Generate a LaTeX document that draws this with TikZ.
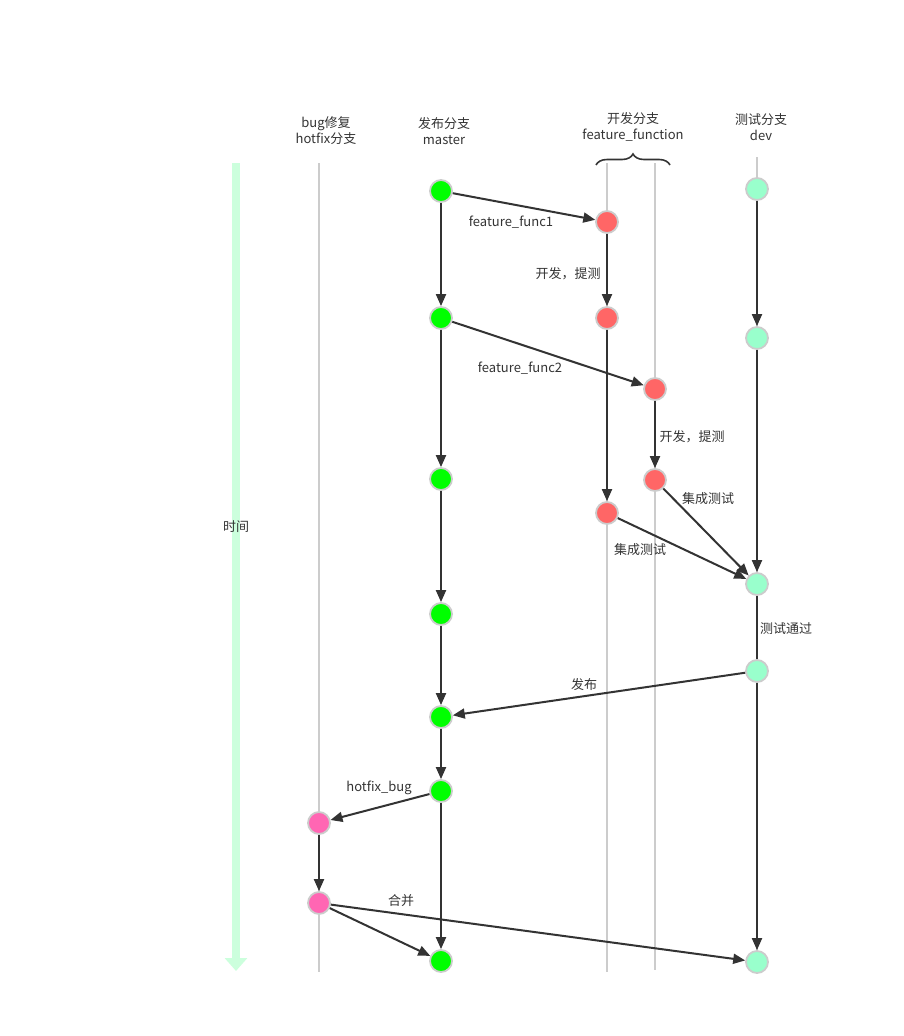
\documentclass[tikz,border=0pt]{standalone}
\usepackage{fontspec}
\setmainfont{Noto Sans CJK SC}
\usetikzlibrary{arrows.meta,decorations.pathreplacing}
\definecolor{edgec}{HTML}{333333}
\definecolor{lanec}{HTML}{CCCCCC}
\definecolor{mgreen}{HTML}{00FF00}
\definecolor{fred}{HTML}{FF6666}
\definecolor{dmint}{HTML}{99FFCC}
\definecolor{hpink}{HTML}{FF66B3}
\definecolor{timec}{HTML}{CCFFDD}
\begin{document}
\begin{tikzpicture}[x=1pt,y=-1pt,
  commit/.style={circle,draw=lanec,line width=1.8pt,minimum size=22pt,inner sep=0pt},
  mnode/.style={commit,fill=mgreen},
  fnode/.style={commit,fill=fred},
  dnode/.style={commit,fill=dmint},
  hnode/.style={commit,fill=hpink},
  lane/.style={draw=lanec,line width=2pt},
  edge/.style={draw=edgec,line width=2pt,-{Triangle[length=12pt,width=10pt]}},
  plain/.style={draw=edgec,line width=2pt},
  lbl/.style={text=edgec,font=\fontsize{13pt}{16pt}\selectfont,inner sep=0pt},
  head/.style={lbl,align=center}]
\useasboundingbox (0,0) rectangle (904,1036);
% time bar
\draw[timec,line width=8pt,-{Triangle[length=13pt,width=22pt]}] (236,163) -- (236,971);
\node[lbl] (time) at (236,527) {时间};
% lanes
\coordinate (hT) at (319,163); \coordinate (hB) at (319,972);
\coordinate (f1T) at (607,163); \coordinate (f1B) at (607,972);
\coordinate (f2T) at (655,163); \coordinate (f2B) at (655,970);
\coordinate (dT) at (757,157); \coordinate (dB) at (757,960);
\draw[lane] (hT) -- (hB);
\draw[lane] (f1T) -- (f1B);
\draw[lane] (f2T) -- (f2B);
\draw[lane] (dT) -- (dB);
% headers
\node[head] (hh) at (326,131) {bug修复\\hotfix分支};
\node[head] (mh) at (444,131) {发布分支\\master};
\node[head] (fh) at (633,127) {开发分支\\feature\_function};
\node[head] (dh) at (761,127) {测试分支\\dev};
\coordinate (brL) at (596,165); \coordinate (brR) at (670,165);
\draw[edgec,line width=1.6pt,decorate,decoration={brace,amplitude=11pt}] (brL) -- (brR);
% nodes
\node[mnode] (m1) at (441,191) {};
\node[mnode] (m2) at (441,318) {};
\node[mnode] (m3) at (441,479) {};
\node[mnode] (m4) at (441,614) {};
\node[mnode] (m5) at (441,717) {};
\node[mnode] (m6) at (441,791) {};
\node[mnode] (m7) at (441,961) {};
\node[fnode] (f1) at (607,222) {};
\node[fnode] (f2) at (607,318) {};
\node[fnode] (f3) at (655,389) {};
\node[fnode] (f4) at (655,480) {};
\node[fnode] (f5) at (607,513) {};
\node[dnode] (d1) at (757,189) {};
\node[dnode] (d2) at (757,338) {};
\node[dnode] (d3) at (757,584) {};
\node[dnode] (d4) at (757,671) {};
\node[dnode] (d5) at (757,962) {};
\node[hnode] (h1) at (319,823) {};
\node[hnode] (h2) at (319,903) {};
% edges
\draw[edge] (m1) -- (m2);
\draw[edge] (m2) -- (m3);
\draw[edge] (m3) -- (m4);
\draw[edge] (m4) -- (m5);
\draw[edge] (m5) -- (m6);
\draw[edge] (m6) -- (m7);
\draw[edge] (m1) -- (f1);
\draw[edge] (f1) -- (f2);
\draw[edge] (m2) -- (f3);
\draw[edge] (f2) -- (f5);
\draw[edge] (f3) -- (f4);
\draw[edge] (f4) -- (d3);
\draw[edge] (f5) -- (d3);
\draw[edge] (d1) -- (d2);
\draw[edge] (d2) -- (d3);
\draw[plain] (d3) -- (d4);
\draw[edge] (d4) -- (m5);
\draw[edge] (d4) -- (d5);
\draw[edge] (m6) -- (h1);
\draw[edge] (h1) -- (h2);
\draw[edge] (h2) -- (m7);
\draw[edge] (h2) -- (d5);
% labels
\node[lbl] (l1) at (511,222) {feature\_func1};
\node[lbl] (l2) at (568,274) {开发，提测};
\node[lbl] (l3) at (520,368) {feature\_func2};
\node[lbl] (l4) at (692,437) {开发，提测};
\node[lbl] (l5) at (708,499) {集成测试};
\node[lbl] (l6) at (640,550) {集成测试};
\node[lbl] (l7) at (786,629) {测试通过};
\node[lbl] (l8) at (584,685) {发布};
\node[lbl] (l9) at (379,788) {hotfix\_bug};
\node[lbl] (l10) at (401,901) {合并};
\end{tikzpicture}
\end{document}
